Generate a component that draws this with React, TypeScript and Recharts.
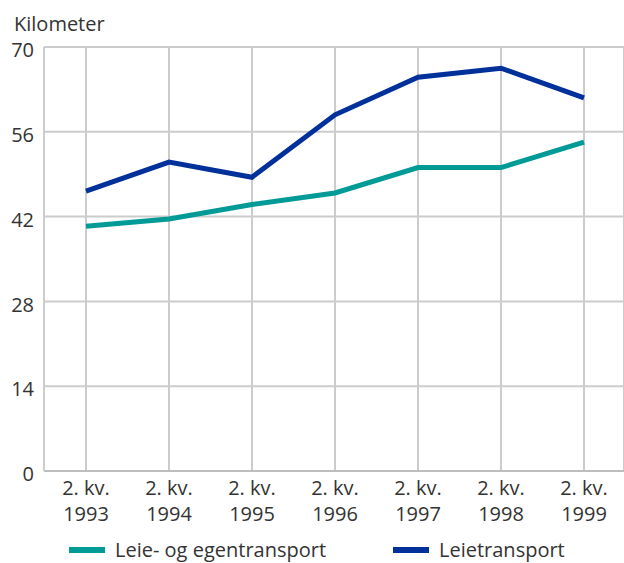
import { LineChart, Line, XAxis, YAxis, CartesianGrid, Legend } from 'recharts';

const categories = [
  '2. kv. 1993',
  '2. kv. 1994',
  '2. kv. 1995',
  '2. kv. 1996',
  '2. kv. 1997',
  '2. kv. 1998',
  '2. kv. 1999',
];
const leieOgEgen = [40.4, 41.6, 44.0, 45.9, 50.1, 50.1, 54.3];
const leie = [46.2, 51.0, 48.5, 58.8, 65.0, 66.5, 61.6];
const yTicks = [0, 14, 28, 42, 56, 70];

const SERIES = [
  { key: 'leieOgEgen', name: 'Leie- og egentransport', color: '#009a97' },
  { key: 'leie', name: 'Leietransport', color: '#00309a' },
];

const data = categories.map((c, i) => ({ cat: c, leieOgEgen: leieOgEgen[i], leie: leie[i] }));

const FONT = '"Open Sans", sans-serif';
const TEXT = '#333333';
const GRID = '#cccccc';

function XTick({ x, y, payload }: any) {
  const v: string = payload.value;
  const cut = v.lastIndexOf(' ');
  return (
    <text x={x} y={y} textAnchor="middle" fill={TEXT} fontSize={20} fontFamily={FONT}>
      <tspan x={x} dy={16}>{v.slice(0, cut)}</tspan>
      <tspan x={x} dy={26}>{v.slice(cut + 1)}</tspan>
    </text>
  );
}

function LegendContent() {
  const lefts = [69, 393];
  return (
    <div style={{ position: 'relative', width: 624, height: 24, fontFamily: FONT }}>
      {SERIES.map((s, i) => (
        <div
          key={s.key}
          style={{ position: 'absolute', left: lefts[i], top: 0, display: 'flex', alignItems: 'center', height: 24 }}
        >
          <span style={{ display: 'inline-block', width: 36, height: 6, background: s.color, marginRight: 10 }} />
          <span style={{ fontSize: 20, color: TEXT, whiteSpace: 'nowrap', lineHeight: '24px' }}>{s.name}</span>
        </div>
      ))}
    </div>
  );
}

export default function App() {
  return (
    <div style={{ position: 'absolute', left: 0, top: 0, width: 624, height: 563, background: '#fff' }}>
      <div
        style={{
          position: 'absolute',
          left: 14,
          top: 10,
          fontFamily: FONT,
          fontSize: 20,
          color: TEXT,
          lineHeight: '28px',
        }}
      >
        Kilometer
      </div>
      <LineChart
        width={624}
        height={563}
        data={data}
        margin={{ top: 47, right: 0, left: 0, bottom: 32 }}
        style={{ fontFamily: FONT }}
      >
        <CartesianGrid stroke={GRID} strokeWidth={2} />
        <XAxis
          dataKey="cat"
          padding={{ left: 42, right: 40 }}
          height={60}
          tickLine={false}
          axisLine={{ stroke: '#bdbdbd', strokeWidth: 2 }}
          tick={<XTick />}
          interval={0}
        />
        <YAxis
          width={44}
          domain={[0, 70]}
          ticks={yTicks}
          tickLine={false}
          tickMargin={4}
          axisLine={{ stroke: GRID, strokeWidth: 2 }}
          tick={{ fill: TEXT, fontSize: 20, dy: 3 }}
        />
        <Legend
          verticalAlign="middle"
          layout="horizontal"
          wrapperStyle={{ top: 538, left: 0, width: 624 }}
          content={<LegendContent />}
        />
        {SERIES.map((s) => (
          <Line
            key={s.key}
            type="linear"
            dataKey={s.key}
            name={s.name}
            stroke={s.color}
            strokeWidth={5}
            dot={false}
            activeDot={false}
            isAnimationActive={false}
          />
        ))}
      </LineChart>
    </div>
  );
}
